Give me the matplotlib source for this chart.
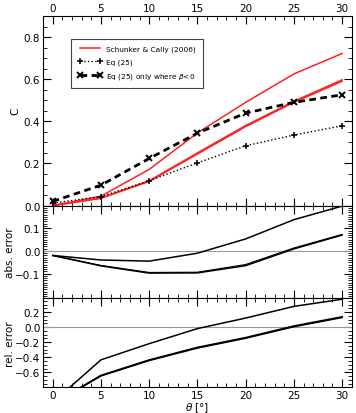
import numpy as np
import matplotlib
matplotlib.use('Agg')
import matplotlib.pyplot as plt
from matplotlib.ticker import MultipleLocator

# angle of inclination (deg)
theta = [0, 5, 10, 15, 20, 25, 30]

# Schunker & Cally (2006) curves
sc_upper = [0.0, 0.045, 0.172, 0.345, 0.49, 0.625, 0.722]
sc_lower = [0.0, 0.035, 0.115, 0.245, 0.375, 0.49, 0.59]
sc_lower2 = [0.0, 0.036, 0.118, 0.25, 0.38, 0.495, 0.597]

# Eq (25) and Eq (25) only where beta<0
eq25 = [0.012, 0.043, 0.118, 0.203, 0.284, 0.335, 0.379]
eq25_neg = [0.02, 0.097, 0.224, 0.344, 0.439, 0.49, 0.526]

# absolute errors
abs_upper = [-0.02, -0.04, -0.045, -0.01, 0.053, 0.138, 0.198]
abs_lower = [-0.02, -0.066, -0.098, -0.097, -0.065, 0.009, 0.07]
abs_lower2 = [-0.02, -0.064, -0.095, -0.094, -0.06, 0.013, 0.073]

# relative errors
rel_upper = [-1.0, -0.435, -0.22, -0.02, 0.12, 0.275, 0.37]
rel_lower = [-1.02, -0.648, -0.443, -0.278, -0.147, 0.006, 0.128]
rel_lower2 = [-1.02, -0.642, -0.437, -0.27, -0.14, 0.014, 0.136]

plt.rcParams['font.size'] = 7.5
plt.rcParams['xtick.direction'] = 'in'
plt.rcParams['ytick.direction'] = 'in'

fig = plt.figure(figsize=(3.56, 4.14), dpi=100)
gs = fig.add_gridspec(3, 1, height_ratios=[190, 93, 89], hspace=0,
                      left=0.121, right=0.988, top=0.959, bottom=0.062)
ax1 = fig.add_subplot(gs[0])
ax2 = fig.add_subplot(gs[1], sharex=ax1)
ax3 = fig.add_subplot(gs[2], sharex=ax1)

# top panel: C vs theta
ax1.plot(theta, sc_upper, color='#ff2020', lw=1.1, label='Schunker & Cally (2006)')
ax1.plot(theta, sc_lower, color='#ff2020', lw=1.1)
ax1.plot(theta, sc_lower2, color='#ff2020', lw=1.1)
ax1.plot(theta, eq25, color='black', ls=':', lw=1.0, marker='+', ms=4.5, mew=1.1,
         label='Eq (25)')
ax1.plot(theta, eq25_neg, color='black', ls='--', lw=2.0, marker='x', ms=4, mew=1.4,
         dashes=(2.4, 1.6), label=r'Eq (25) only where $\beta$<0')
ax1.set_ylim(0, 0.9)
ax1.set_ylabel('C')
ax1.set_yticks([0.0, 0.2, 0.4, 0.6, 0.8])
ax1.yaxis.set_minor_locator(MultipleLocator(0.05))
ax1.xaxis.tick_top()
ax1.tick_params(axis='x', which='both', top=True, bottom=True,
                labeltop=True, labelbottom=False)
leg = ax1.legend(loc='upper left', bbox_to_anchor=(0.09, 0.88), fontsize=5.3,
                 numpoints=2, handlelength=3.4, handletextpad=0.5,
                 fancybox=False, framealpha=1, edgecolor='#444444',
                 borderpad=0.9, labelspacing=0.85, borderaxespad=0)
leg.get_frame().set_linewidth(0.8)

# middle panel: absolute error
ax2.axhline(0, color='#999999', lw=0.8)
ax2.plot(theta, abs_upper, color='black', lw=1.1)
ax2.plot(theta, abs_lower, color='black', lw=1.1)
ax2.plot(theta, abs_lower2, color='black', lw=0.8)
ax2.set_ylim(-0.21, 0.2)
ax2.set_yticks([-0.1, 0.0, 0.1])
ax2.yaxis.set_minor_locator(MultipleLocator(0.01))
ax2.set_ylabel('abs. error')
ax2.tick_params(axis='x', which='both', labelbottom=False)

# bottom panel: relative error
ax3.axhline(0, color='#999999', lw=0.8)
ax3.plot(theta, rel_upper, color='black', lw=1.1)
ax3.plot(theta, rel_lower, color='black', lw=1.2)
ax3.plot(theta, rel_lower2, color='black', lw=1.2)
ax3.set_ylim(-0.8, 0.38)
ax3.set_yticks([-0.6, -0.4, -0.2, 0.0, 0.2])
ax3.yaxis.set_minor_locator(MultipleLocator(0.05))
ax3.set_ylabel('rel. error')
ax3.set_xlabel(r'$\theta$ [°]', labelpad=0)

ax1.set_xlim(-1, 31)
ax1.xaxis.set_major_locator(MultipleLocator(5))
ax1.xaxis.set_minor_locator(MultipleLocator(1))

for ax in (ax1, ax2, ax3):
    ax.tick_params(which='both', top=True, right=True, bottom=True, left=True)
    ax.tick_params(which='major', length=6, width=0.8, pad=2)
    ax.tick_params(which='minor', length=3, width=0.6)
    for s in ax.spines.values():
        s.set_linewidth(0.8)

ax1.yaxis.set_label_coords(-0.075, 0.5)
ax2.yaxis.set_label_coords(-0.092, 0.5)
ax3.yaxis.set_label_coords(-0.092, 0.5)

fig.savefig('out.png', dpi=100)
